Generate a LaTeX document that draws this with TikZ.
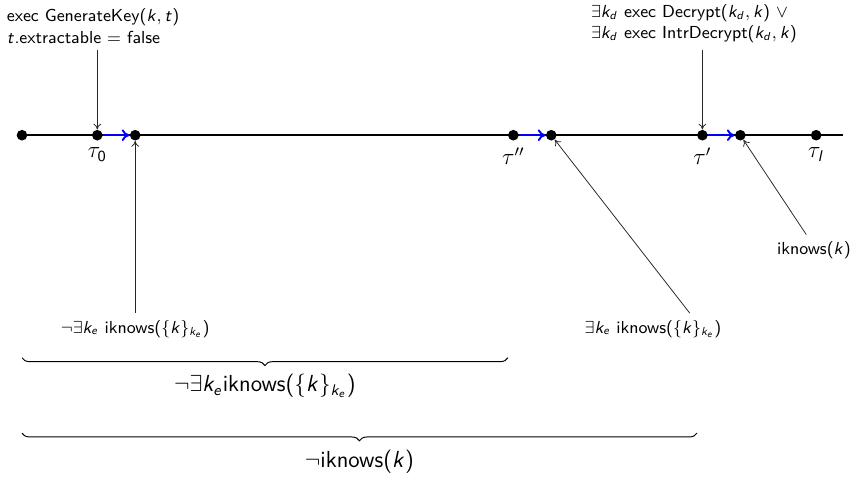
\documentclass[tikz,border=0pt]{standalone}
\usepackage{amsmath}
\usetikzlibrary{arrows.meta,positioning,calc,decorations.pathreplacing}
\renewcommand{\familydefault}{\sfdefault}
% sans serif letters and digits in formulas
\DeclareSymbolFont{operators}{OT1}{cmss}{m}{n}
\DeclareSymbolFont{sfletters}{OT1}{cmss}{m}{sl}
\DeclareMathSymbol{k}{\mathalpha}{sfletters}{`k}
\DeclareMathSymbol{t}{\mathalpha}{sfletters}{`t}
\DeclareMathSymbol{d}{\mathalpha}{sfletters}{`d}
\DeclareMathSymbol{e}{\mathalpha}{sfletters}{`e}
\DeclareMathSymbol{l}{\mathalpha}{sfletters}{`l}

\begin{document}
\begin{tikzpicture}[font=\sffamily\small,
    pt/.style={circle,fill=black,inner sep=0pt,minimum size=5.5pt},
    ptr/.style={-{To[length=3pt,width=4pt]},line width=0.4pt,black!85},
    adv/.style={-{To[length=4pt,width=6pt]},blue,line width=1pt},
    brc/.style={decorate,decoration={brace,mirror,amplitude=4pt},line width=0.5pt}]
    \useasboundingbox (0,-6.28) rectangle (15.52,2.46);

    % time line and states
    \draw[line width=1pt] (0.40,0) -- (15.34,0);
    \node[pt] (p0) at (0.40,0) {};
    \node[pt] (t0) at (1.77,0) {};
    \node[pt] (a0) at (2.46,0) {};
    \node[pt] (t2) at (9.34,0) {};
    \node[pt] (a2) at (10.03,0) {};
    \node[pt] (t1) at (12.78,0) {};
    \node[pt] (a1) at (13.47,0) {};
    \node[pt] (tl) at (14.85,0) {};
    \node[below=0pt of t0,font=\large] {$\tau_0$};
    \node[below=0pt of t2,font=\large] {$\tau''$};
    \node[below=0pt of t1,font=\large] {$\tau'$};
    \node[below=0pt of tl,font=\large] {$\tau_l$};

    \draw[adv] (t0) -- (a0);
    \draw[adv] (t2) -- (a2);
    \draw[adv] (t1) -- (a1);

    % events above
    \node[align=left,anchor=south west] (gen) at (0,1.55)
      {exec GenerateKey$(k,t)$\\$t$.extractable $=$ false};
    \draw[ptr] (t0 |- gen.south) -- (t0);
    \node[align=left,anchor=south west] (dec) at (10.63,1.55)
      {$\exists k_d$ exec Decrypt$(k_d,k)$ $\vee$\\$\exists k_d$ exec IntrDecrypt$(k_d,k)$};
    \draw[ptr] (t1 |- dec.south) -- (t1);

    % facts below
    \node (nke) at (2.46,-3.52) {$\neg\exists k_e$ iknows$(\{k\}_{k_e})$};
    \draw[ptr] (nke) -- (a0);
    \node (eke) at (11.88,-3.52) {$\exists k_e$ iknows$(\{k\}_{k_e})$};
    \draw[ptr] ($(eke.north)+(0.67,0)$) -- (a2);
    \node (ik) at (14.81,-2.09) {iknows$(k)$};
    \draw[ptr] ([xshift=-4pt]ik.north) -- (a1);

    % invariants
    \draw[brc] ([yshift=-4.05cm]p0.center) -- ([yshift=-4.05cm,xshift=-0.1cm]t2.center)
      node[midway,below=5pt,font=\large] (inv1) {$\neg\exists k_e$iknows$(\{k\}_{k_e})$};
    \draw[brc] ([yshift=-5.42cm]p0.center) -- ([yshift=-5.42cm,xshift=-0.1cm]t1.center)
      node[midway,below=5pt,font=\large] (inv2) {$\neg$iknows$(k)$};
\end{tikzpicture}
\end{document}
